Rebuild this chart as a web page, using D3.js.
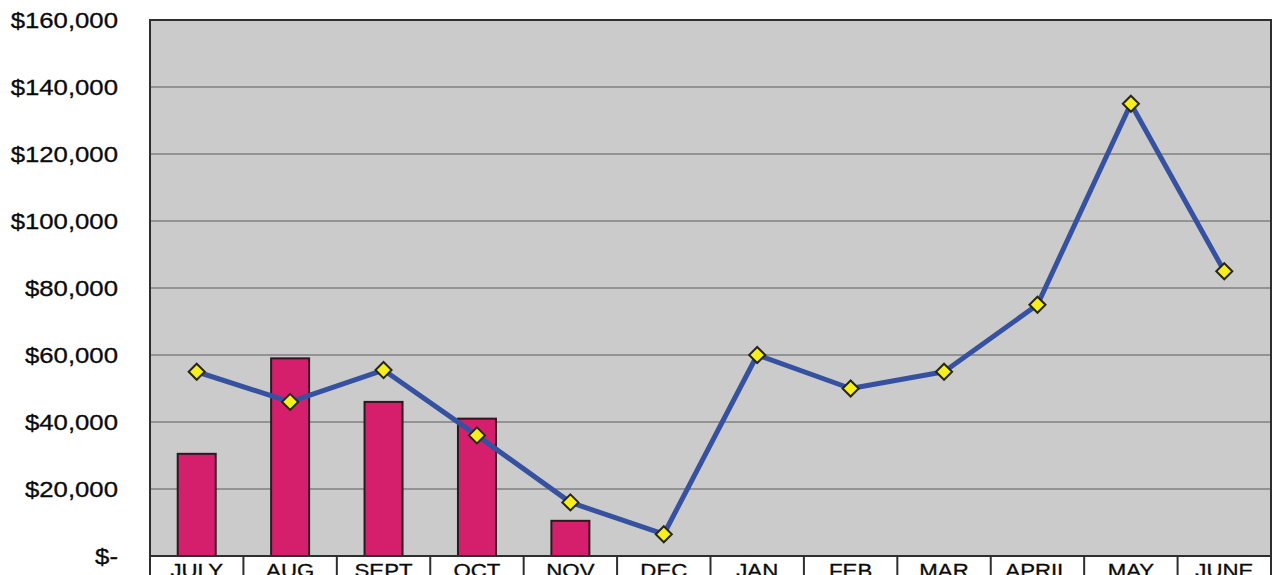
<!DOCTYPE html>
<html>
<head>
<meta charset="utf-8">
<script src="https://cdn.jsdelivr.net/npm/d3@7"></script>
<style>
  html, body { margin: 0; padding: 0; background: #fff; overflow: hidden; }
  svg { display: block; }
</style>
</head>
<body>
<svg id="chart" width="1274" height="575"></svg>
<script>
// Monthly figures, fiscal year July–June
const months = ["JULY", "AUG", "SEPT", "OCT", "NOV", "DEC", "JAN", "FEB", "MAR", "APRIL", "MAY", "JUNE"];
const actualValues = [30500, 59000, 46000, 41000, 10500, null, null, null, null, null, null, null];
const budgetValues = [55000, 46000, 55500, 36000, 16000, 6500, 60000, 50000, 55000, 75000, 135000, 85000];
const yTicks = [0, 20000, 40000, 60000, 80000, 100000, 120000, 140000, 160000];

const W = 1274, H = 575;
const margin = { left: 150, top: 20, right: 3, bottom: 19 };
const plotW = W - margin.left - margin.right;
const plotH = H - margin.top - margin.bottom;

const svg = d3.select("#chart");
const g = svg.append("g").attr("transform", `translate(${margin.left},${margin.top})`);

const x = d3.scaleBand().domain(months).range([0, plotW]).padding(0);
const y = d3.scaleLinear().domain([0, 160000]).range([plotH, 0]);

// plot background
g.append("rect")
  .attr("width", plotW).attr("height", plotH)
  .attr("fill", "#cbcbcb");

// horizontal gridlines
g.append("g").selectAll("line")
  .data(yTicks.filter(d => d > 0 && d < 160000))
  .join("line")
  .attr("x1", 0).attr("x2", plotW)
  .attr("y1", d => y(d)).attr("y2", d => y(d))
  .attr("stroke", "#808080").attr("stroke-width", 1.3);

// y axis labels
const fmt = d => d === 0 ? "$-" : "$" + d3.format(",")(d);
const yLab = svg.append("g");
yTicks.forEach(d => {
  const ty = margin.top + y(d) + 8;
  yLab.append("text")
    .attr("transform", `translate(118,${ty}) scale(1.17,1)`)
    .attr("text-anchor", "end")
    .attr("font-family", "Liberation Sans, Arial, sans-serif")
    .attr("font-size", 22)
    .attr("fill", "#0a0a0a")
    .attr("stroke", "#0a0a0a").attr("stroke-width", 0.3)
    .text(fmt(d));
});

// bars
const barW = 38;
g.append("g").selectAll("rect")
  .data(months.map((m, i) => ({ m, v: actualValues[i] })).filter(d => d.v != null))
  .join("rect")
  .attr("x", d => x(d.m) + x.bandwidth() / 2 - barW / 2)
  .attr("y", d => y(d.v))
  .attr("width", barW)
  .attr("height", d => plotH - y(d.v))
  .attr("fill", "#d61f6c")
  .attr("stroke", "#2a1a20").attr("stroke-width", 2);

// line
const pts = months.map((m, i) => ({ m, v: budgetValues[i] }));
const line = d3.line().x(d => x(d.m) + x.bandwidth() / 2).y(d => y(d.v));
g.append("path")
  .datum(pts)
  .attr("d", line)
  .attr("fill", "none")
  .attr("stroke", "#3651a0").attr("stroke-width", 5)
  .attr("stroke-linejoin", "round");

// diamond markers
const sym = d3.symbol().type(d3.symbolDiamond2).size(165);
g.append("g").selectAll("path")
  .data(pts)
  .join("path")
  .attr("transform", d => `translate(${x(d.m) + x.bandwidth() / 2},${y(d.v)})`)
  .attr("d", sym)
  .attr("fill", "#f6ef1c")
  .attr("stroke", "#26261a").attr("stroke-width", 2);

// plot border
g.append("rect")
  .attr("width", plotW).attr("height", plotH)
  .attr("fill", "none")
  .attr("stroke", "#2e2e2e").attr("stroke-width", 2);

// category label table under the plot
const tbl = g.append("g").attr("transform", `translate(0,${plotH})`);
tbl.selectAll("line.sep")
  .data(months.concat(["_end"]))
  .join("line")
  .attr("class", "sep")
  .attr("x1", (d, i) => i * x.bandwidth()).attr("x2", (d, i) => i * x.bandwidth())
  .attr("y1", 0).attr("y2", 30)
  .attr("stroke", "#2e2e2e").attr("stroke-width", 2);
tbl.selectAll("text")
  .data(months)
  .join("text")
  .attr("transform", d => `translate(${x(d) + x.bandwidth() / 2},21) scale(1.17,1)`)
  .attr("text-anchor", "middle")
  .attr("font-family", "Liberation Sans, Arial, sans-serif")
  .attr("font-size", 19)
  .attr("fill", "#0a0a0a")
  .attr("stroke", "#0a0a0a").attr("stroke-width", 0.3)
  .text(d => d);
</script>
</body>
</html>
